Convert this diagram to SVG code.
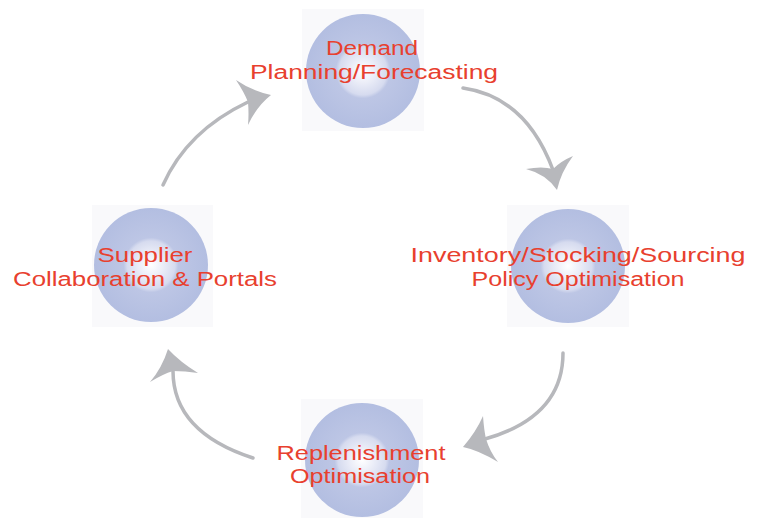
<svg xmlns="http://www.w3.org/2000/svg" width="761" height="518" viewBox="0 0 761 518">
<defs>
<radialGradient id="orb" cx="0.5" cy="0.5" r="0.5">
<stop offset="0" stop-color="#ffffff"/>
<stop offset="0.2" stop-color="#eceef8"/>
<stop offset="0.42" stop-color="#d6dbef"/>
<stop offset="0.48" stop-color="#bdc6e5"/>
<stop offset="1" stop-color="#b3bee1"/>
</radialGradient>
<style>
.bg{fill:#f9f9fb}
.orb{fill:url(#orb)}
.lbl{font-family:"Liberation Sans",Arial,sans-serif;font-size:20px;fill:#e8402e;text-anchor:middle}
.arc{fill:none;stroke:#b7b8bc;stroke-width:3.5;stroke-linecap:round}
.head{fill:#b7b8bc}
</style>
</defs>
<rect width="761" height="518" fill="#ffffff"/>
<g id="connectors">
<path class="arc" d="M463,88 Q526,97 553,170"/>
<path class="head" d="M557,190 Q546,174 526,169 Q542,166 553,169 Q561,161 573,156 Q561,172 557,190 Z"/>
<path class="arc" d="M563,353 Q563,417 485,439"/>
<path class="head" d="M463,447 Q476,432 483,416 Q484,430 486,439 Q490,452 498,462 Q478,450 463,447 Z"/>
<path class="arc" d="M253,458 Q173,432 173,371"/>
<path class="head" d="M168,349 Q162,368 150,382 Q163,374 173,371 Q185,371 198,373 Q180,362 168,349 Z"/>
<path class="arc" d="M163,185 Q187,131 248,102"/>
<path class="head" d="M271,95 Q252,91 236,80 Q244,92 248,102 Q249,114 248,125 Q257,106 271,95 Z"/>
</g>
<g id="node-demand">
<rect class="bg" x="302" y="9" width="122" height="122"/>
<circle class="orb" cx="363" cy="71" r="57"/>
<text class="lbl" x="372" y="55" textLength="92" lengthAdjust="spacingAndGlyphs">Demand</text>
<text class="lbl" x="374" y="79" textLength="248" lengthAdjust="spacingAndGlyphs">Planning/Forecasting</text>
</g>
<g id="node-inventory">
<rect class="bg" x="507" y="205" width="122" height="122"/>
<circle class="orb" cx="568" cy="266" r="57"/>
<text class="lbl" x="578" y="262" textLength="335" lengthAdjust="spacingAndGlyphs">Inventory/Stocking/Sourcing</text>
<text class="lbl" x="578" y="286" textLength="213" lengthAdjust="spacingAndGlyphs">Policy Optimisation</text>
</g>
<g id="node-replenishment">
<rect class="bg" x="301" y="399" width="122" height="119"/>
<circle class="orb" cx="362" cy="460" r="57"/>
<text class="lbl" x="361" y="460" textLength="169" lengthAdjust="spacingAndGlyphs">Replenishment</text>
<text class="lbl" x="360" y="483" textLength="140" lengthAdjust="spacingAndGlyphs">Optimisation</text>
</g>
<g id="node-supplier">
<rect class="bg" x="92" y="205" width="121" height="122"/>
<circle class="orb" cx="151" cy="265" r="57"/>
<text class="lbl" x="145" y="262" textLength="95" lengthAdjust="spacingAndGlyphs">Supplier</text>
<text class="lbl" x="145" y="286" textLength="264" lengthAdjust="spacingAndGlyphs">Collaboration &amp; Portals</text>
</g>
</svg>
